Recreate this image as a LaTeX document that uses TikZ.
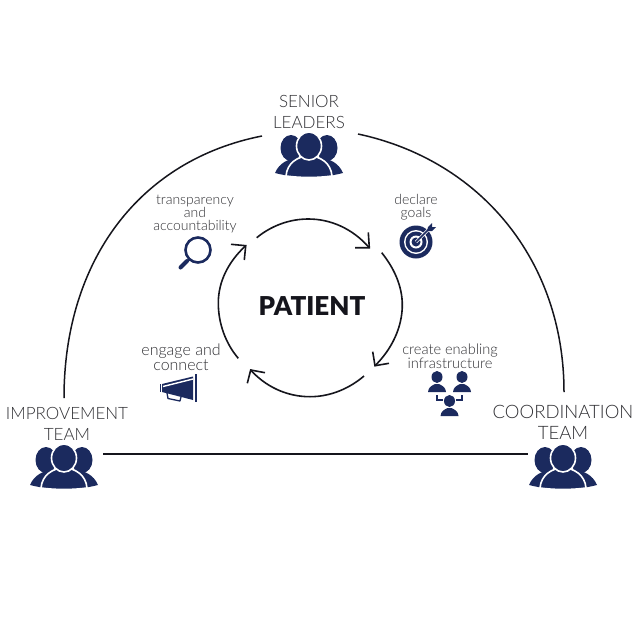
\documentclass[tikz,border=0pt]{standalone}
\usepackage{fontspec}
\setmainfont{Lato Light}[BoldFont=Lato Black]
\definecolor{navy}{HTML}{1B2A5E}
\definecolor{ink}{HTML}{15151C}
\definecolor{txt}{HTML}{303034}
\tikzset{
 big/.style={font=\fontsize{17}{21}\selectfont,text=txt,align=center,inner sep=0pt},
 small/.style={font=\fontsize{14}{13}\selectfont,text=txt,align=center,inner sep=0pt},
 conn/.style={draw=ink,line width=1.5pt},
 cyc/.style={conn,line width=1.6pt},
 team/.pic={
  \fill[navy] (-18,-7) ellipse (10.5 and 13);
  \fill[navy] (18,-7) ellipse (10.5 and 13);
  \fill[navy] (-34,18) .. controls (-30,8) and (-20,3) .. (-8,2) -- (8,2) .. controls (20,3) and (30,8) .. (34,18) .. controls (10,24) and (-10,24) .. (-34,18) -- cycle;
  \filldraw[navy,draw=white,line width=1.6pt] (-23,21) .. controls (-22,8) and (-11,1) .. (0,1) .. controls (11,1) and (22,8) .. (23,21) .. controls (8,23) and (-8,23) .. (-23,21) -- cycle;
  \filldraw[navy,draw=white,line width=1.6pt] (0,-9) ellipse (12.5 and 14);
 },
 person/.pic={
  \fill[navy] (0,-7) ellipse (5.5 and 6);
  \fill[navy] (-9,8) .. controls (-9,3) and (-4,1) .. (-2,0) -- (2,0) .. controls (4,1) and (9,3) .. (9,8) -- cycle;
 }
}
\begin{document}
\begin{tikzpicture}[x=1pt,y=-1pt]
\useasboundingbox (0,0) rectangle (640,640);
\fill[white] (0,0) rectangle (640,640);

% outer connectors
\coordinate (ileft) at (64,398);
\coordinate (sleft) at (262,136);
\coordinate (sright) at (358,134);
\coordinate (cright) at (564,392);
\coordinate (ibase) at (103,454);
\coordinate (cbase) at (528,454);
\draw[conn] (ileft) .. controls (64,260) and (140,160) .. (sleft);
\draw[conn] (sright) .. controls (480,160) and (564,260) .. (cright);
\draw[conn] (ibase) -- (cbase);

% teams
\pic at (309,155) {team};
\pic at (64,467) {team};
\pic at (563,467) {team};
\node[big] (senior) at (309,112) {SENIOR\\LEADERS};
\node[big] (improve) at (67,423.5) {IMPROVEMENT\\TEAM};
\node[big,font=\fontsize{18.5}{21}\selectfont] (coord) at (563,422.5) {COORDINATION\\TEAM};

% central cycle
\coordinate (t1) at (369.3,247.7);
\coordinate (t2) at (375,365.7);
\coordinate (t3) at (250.7,370);
\coordinate (t4) at (245.7,245.7);
\draw[cyc] (256.7,237.7) .. controls (271,226) and (289,219) .. (308.3,219) .. controls (330,219) and (352,228) .. (t1);
\draw[cyc] (355,247.7) -- (t1) -- (368.3,232.3);
\draw[cyc] (381.7,252.7) .. controls (394,268) and (402.3,286) .. (402.3,305) .. controls (402.3,327) and (392,349) .. (t2);
\draw[cyc] (372.7,351.7) -- (t2) -- (389,363.3);
\draw[cyc] (364,376) .. controls (350,388) and (331,396.7) .. (310,396.7) .. controls (286,396.7) and (265,386) .. (t3);
\draw[cyc] (265,372.7) -- (t3) -- (247.3,383.3);
\draw[cyc] (238.3,358.3) .. controls (226,344) and (218.3,324) .. (218.3,303) .. controls (218.3,282) and (228,262) .. (t4);
\draw[cyc] (231,244.3) -- (t4) -- (244.3,260);
\node[font=\fontsize{26}{28}\bfseries\selectfont,text=ink,inner sep=0pt] (patient) at (312,306) {PATIENT};

% labels
\node[small] (transp) at (195,214.5) {transparency\\and\\accountability};
\node[small] (declare) at (416,207.5) {declare\\goals};
\node[small,font=\fontsize{16}{15}\selectfont] (engage) at (181,357.5) {engage and\\connect};
\node[small,font=\fontsize{14.6}{12.5}\selectfont] (create) at (450,356) {create enabling\\infrastructure};

% magnifier
\draw[navy,line width=2.6pt] (198,250) circle (12.5);
\draw[navy,line width=1.8pt] (190,259) -- (187,262);
\draw[navy,line width=4pt,line cap=round] (187,261) -- (180.5,267.5);

% target
\fill[navy] (416,242) circle (16.5);
\fill[white] (416,242) circle (12);
\fill[navy] (416,242) circle (10.5);
\fill[white] (416,242) circle (6.5);
\fill[navy] (416,242) circle (4.5);
\draw[white,line width=3pt] (416,242) -- (429,229);
\draw[navy,line width=1.5pt] (416,242) -- (429,229);
\fill[white] (426,226) -- (431,222) -- (438,229) -- (433,234) -- cycle;
\fill[navy] (427,231) -- (428,227) -- (432,223) -- (432,227) -- (436,227) -- (432,231) -- cycle;

% megaphone
\fill[navy] (162,384) -- (193,376.5) -- (193,400) -- (162,392) -- cycle;
\fill[navy] (160,384) rectangle (161,392);
\draw[white,line width=1.4pt] (163,386.5) -- (193,379);
\fill[navy] (194.5,374) rectangle (197,402);
\draw[navy,line width=1.3pt,line join=round] (167,393) -- (168,398.5) -- (180,401) -- (181,397);

% infrastructure
\pic at (437,384) {person};
\pic at (462,384) {person};
\pic at (449.5,408) {person};
\draw[navy,line width=1.2pt] (437,395) -- (437,400) -- (443,400);
\draw[navy,line width=1.2pt] (462,395) -- (462,400) -- (456,400);
\end{tikzpicture}
\end{document}
